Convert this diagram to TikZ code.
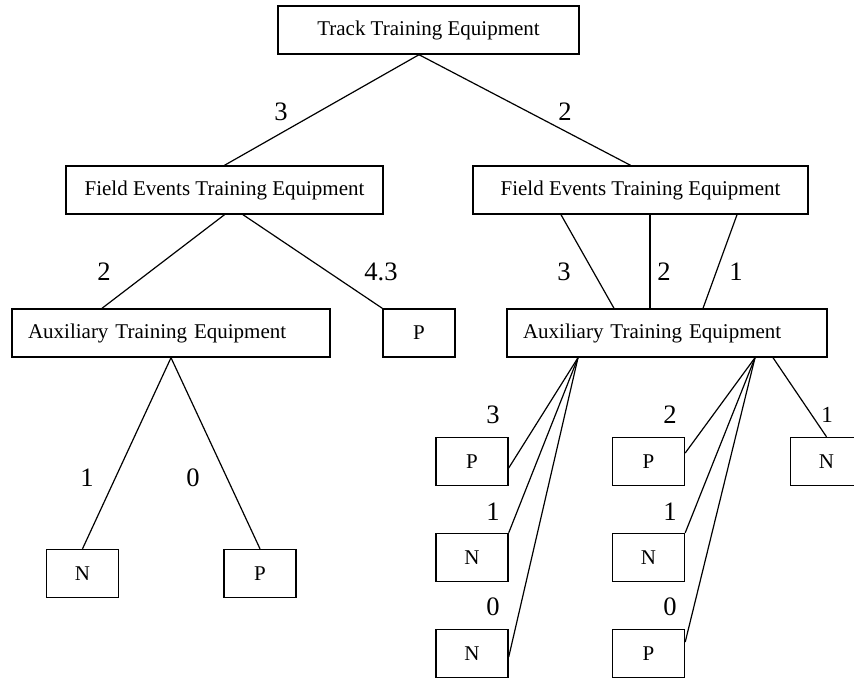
\documentclass[tikz,border=0pt]{standalone}
\usepackage{fontspec}
\setmainfont{Liberation Serif}
\usetikzlibrary{calc}
\tikzset{
  box/.style={draw, line width=0.7pt, inner sep=4pt, minimum height=24pt,
              font=\fontsize{10.5}{12}\selectfont},
  leaf/.style={box, minimum width=36pt},
  wt/.style={font=\fontsize{13.3}{15}\selectfont, inner sep=0pt},
  edge/.style={line width=0.6pt}
}
\begin{document}
\begin{tikzpicture}[x=0.5pt, y=-0.5pt]
\useasboundingbox (0,0) rectangle (854,680);
% tree boxes
\node[box, minimum width=150.5pt] (track) at (428.5,30) {Track Training Equipment};
\node[box, minimum width=158.5pt] (fieldL) at (224.5,190) {Field Events Training Equipment};
\node[box, minimum width=167.5pt] (fieldR) at (640.5,190) {Field Events Training Equipment};
\node[box, inner xsep=8pt, text width=143pt, align=left] (auxL) at (171,333) {Auxiliary Training Equipment};
\node[box, inner xsep=8pt, text width=144pt, align=left] (auxR) at (667,333) {Auxiliary Training Equipment};
\node[leaf] (pL) at (419,333) {P};
\node[leaf] (nL1) at (82.5,573.5) {N};
\node[leaf] (pL1) at (260,573.5) {P};
\node[leaf] (a1) at (472,461.5) {P};
\node[leaf] (a2) at (472,557.5) {N};
\node[leaf] (a3) at (472,653.5) {N};
\node[leaf] (b1) at (648.5,461.5) {P};
\node[leaf] (b2) at (648.5,557.5) {N};
\node[leaf] (b3) at (648.5,653.5) {P};
\node[leaf] (c1) at (826.5,461.5) {N};
% connectors
\draw[edge] ($(track.south)+(-9.5,0)$) -- (fieldL.north);
\draw[edge] ($(track.south)+(-9.5,0)$) -- ($(fieldR.north)+(-10,0)$);
\draw[edge] (fieldL.south) -- ($(auxL.north)+(-69,0)$);
\draw[edge] ($(fieldL.south)+(18.5,0)$) -- (pL.north west);
\draw[edge] ($(fieldR.south)+(-79.5,0)$) -- ($(auxR.north)+(-53,0)$);
\draw[edge] ($(fieldR.south)+(9.5,0)$) -- ($(auxR.north)+(-17,0)$);
\draw[edge] ($(fieldR.south)+(96.5,0)$) -- ($(auxR.north)+(36,0)$);
\draw[edge] (auxL.south) -- (nL1.north);
\draw[edge] (auxL.south) -- (pL1.north);
\draw[edge] ($(auxR.south)+(-89,0)$) -- ($(a1.east)+(0,6.5)$);
\draw[edge] ($(auxR.south)+(-89,0)$) -- (a2.north east);
\draw[edge] ($(auxR.south)+(-89,0)$) -- ($(a3.east)+(0,3.5)$);
\draw[edge] ($(auxR.south)+(88,0)$) -- ($(b1.east)+(0,-8.5)$);
\draw[edge] ($(auxR.south)+(88,0)$) -- (b2.north east);
\draw[edge] ($(auxR.south)+(88,0)$) -- ($(b3.east)+(0,-11.5)$);
\draw[edge] ($(auxR.south)+(106,0)$) -- (c1.north);
% weights
\foreach \n/\x/\y/\t in {w1/281/112/3, w2/565/112/2, w3/104/272/2, w4/381/272/4.3,
    w5/564/272/3, w6/664/272/2, w7/736/272/1, w8/87/478/1, w9/193/478/0,
    w10/493/415/3, w11/493/512/1, w12/493/607/0,
    w13/670/415/2, w14/670/512/1, w15/670/607/0}
  \node[wt] (\n) at (\x,\y) {\t};
\node[wt, font=\fontsize{11.5}{13}\selectfont] (w16) at (827,415) {1};
\end{tikzpicture}
\end{document}
